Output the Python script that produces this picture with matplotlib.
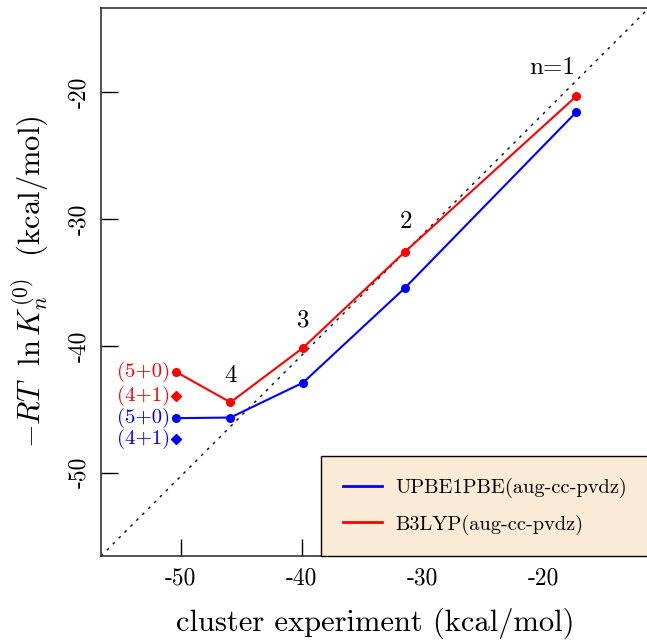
"""Cluster binding free energies: computed vs. experiment."""

import numpy as np
import matplotlib
matplotlib.use("Agg")
import matplotlib.pyplot as plt
from matplotlib.ticker import FuncFormatter
from matplotlib.lines import Line2D

# cluster experiment values (kcal/mol), n = 5, 4, 3, 2, 1
exp_vals = [-50.4, -45.9, -39.9, -31.5, -17.3]
upbe1pbe = [-45.7, -45.65, -42.9, -35.45, -21.55]
b3lyp = [-42.05, -44.45, -40.15, -32.6, -20.3]

# (4+1) isomers at n = 5
iso_x = -50.4
upbe1pbe_41 = -47.35
b3lyp_41 = -43.95

n_labels = ["4", "3", "2", "n=1"]
n_label_x = [-45.9, -39.9, -31.4, -19.3]
n_label_y = [-42.4, -38.0, -30.2, -18.1]

x_ticks = [-50, -40, -30, -20]
y_ticks = [-50, -40, -30, -20]

plt.rcParams["font.family"] = "serif"
plt.rcParams["font.serif"] = ["cmr10"]
plt.rcParams["mathtext.fontset"] = "cm"
plt.rcParams["axes.unicode_minus"] = False
plt.rcParams["axes.formatter.use_mathtext"] = True

fig = plt.figure(figsize=(6.47, 6.42), dpi=100)
ax = fig.add_axes([101 / 647, 86 / 642, 548 / 647, 548 / 642])

# diagonal guide
ax.plot([0, 1], [0, 1], transform=ax.transAxes, linestyle=(0, (2, 4)),
        color="black", linewidth=1.0)

ax.plot(exp_vals, upbe1pbe, "-o", color="blue", linewidth=1.5, markersize=5.5)
ax.plot(exp_vals, b3lyp, "-o", color="red", linewidth=1.5, markersize=5.5)
ax.plot([iso_x], [b3lyp_41], "D", color="red", markersize=5.5)
ax.plot([iso_x], [upbe1pbe_41], "D", color="blue", markersize=5.5)

# isomer labels
lab_x = iso_x - 0.45
ax.text(lab_x, b3lyp[0], "(5+0)", color="red", fontsize=15, ha="right", va="center")
ax.text(lab_x, b3lyp_41, "(4+1)", color="red", fontsize=15, ha="right", va="center")
ax.text(lab_x, upbe1pbe[0], "(5+0)", color="blue", fontsize=15, ha="right", va="center")
ax.text(lab_x, upbe1pbe_41, "(4+1)", color="blue", fontsize=15, ha="right", va="center")

for lab, lx, ly in zip(n_labels, n_label_x, n_label_y):
    ax.text(lx, ly, lab, fontsize=18, ha="center", va="center")

ax.set_xlim(-56.6, -11.3)
ax.set_ylim(-56.57, -13.35)
ax.set_xticks(x_ticks)
ax.set_yticks(y_ticks)
fmt = FuncFormatter(lambda v, p: f"{v:.0f}")
ax.xaxis.set_major_formatter(fmt)
ax.yaxis.set_major_formatter(fmt)
ax.tick_params(direction="in", length=12, width=1.0, labelsize=17, pad=8)
for lbl in ax.get_yticklabels():
    lbl.set_rotation(90)
    lbl.set_va("center")
for sp in ax.spines.values():
    sp.set_color("#333333")
    sp.set_linewidth(1.2)

ax.set_xlabel("cluster experiment (kcal/mol)", fontsize=22, labelpad=13)
ax.set_ylabel(r"$-RT\ \ \ln K_n^{(0)}$  (kcal/mol)", fontsize=22, labelpad=13)

handles = [Line2D([], [], color="blue", linewidth=2),
           Line2D([], [], color="red", linewidth=2)]
leg = ax.legend(handles, ["UPBE1PBE(aug-cc-pvdz)", "B3LYP(aug-cc-pvdz)"],
                loc="lower right", borderaxespad=0, fancybox=False,
                edgecolor="black", facecolor="antiquewhite", framealpha=1,
                fontsize=14.7, borderpad=1.05, handlelength=1.9, labelspacing=0.8,
                handletextpad=0.7)
leg.get_frame().set_linewidth(1.0)

fig.savefig("out.png", dpi=100)
